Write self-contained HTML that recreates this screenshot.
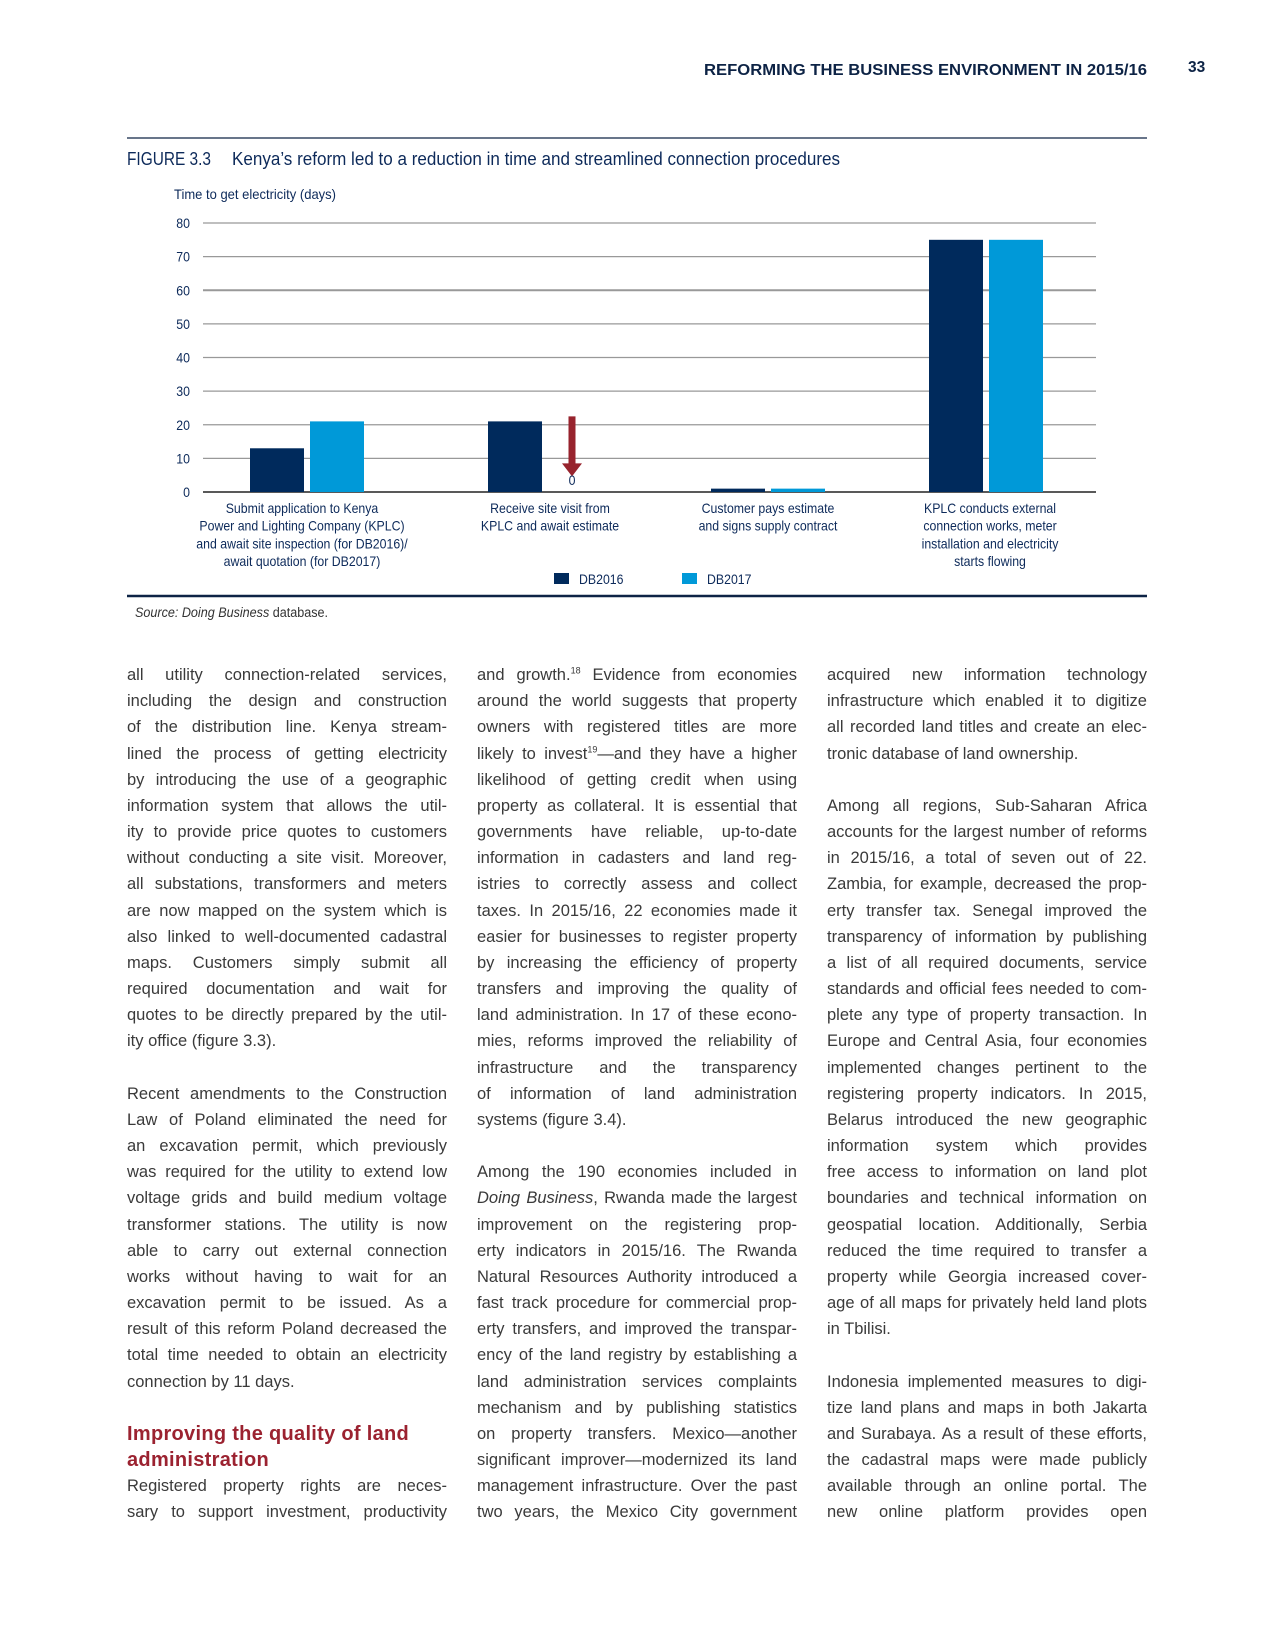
<!DOCTYPE html>
<html><head><meta charset="utf-8">
<style>
body{margin:0;background:#fff;}
#page{position:relative;width:1275px;height:1650px;overflow:hidden;background:#fff;font-family:"Liberation Sans",sans-serif;}
.ln{position:absolute;height:26px;line-height:26px;font-size:16.5px;color:#3a3a3a;text-align:justify;text-align-last:justify;white-space:nowrap;}
.ln.l{text-align-last:left;}
.c1{left:127px;width:320px;}
.c2{left:477px;width:320px;}
.c3{left:827px;width:320px;}
.h{color:#9b2230;font-weight:bold;font-size:20px;letter-spacing:0.3px;text-align-last:left;}
sup{font-size:9px;line-height:0;}
svg text{font-family:"Liberation Sans",sans-serif;fill:#0d2a5a;}
</style></head><body>
<div id="page">
<svg width="1275" height="100" style="position:absolute;left:0;top:0">
<text x="704" y="75" font-size="16" font-weight="bold" textLength="443" lengthAdjust="spacingAndGlyphs" style="fill:#0d2345">REFORMING THE BUSINESS ENVIRONMENT IN 2015/16</text>
<text x="1188" y="72" font-size="15.5" font-weight="bold" style="fill:#0d2345">33</text>
</svg>

<svg id="chart" width="1275" height="630" style="position:absolute;left:0;top:0">
<line x1="127" y1="138" x2="1147" y2="138" stroke="#0d2345" stroke-width="1.2"/>
<text x="127" y="165" font-size="18" textLength="84" lengthAdjust="spacingAndGlyphs">FIGURE 3.3</text>
<text x="232" y="165" font-size="18" textLength="608" lengthAdjust="spacingAndGlyphs">Kenya’s reform led to a reduction in time and streamlined connection procedures</text>
<text x="174" y="199" font-size="14" textLength="162" lengthAdjust="spacingAndGlyphs">Time to get electricity (days)</text>
<g id="grid"></g><g id="bars"></g><g id="labels"></g>
<rect x="554" y="573" width="15" height="11" fill="#002a5c"/>
<g transform="translate(579,584) scale(0.88,1)"><text x="0" y="0" font-size="14">DB2016</text></g>
<rect x="682" y="573" width="15" height="11" fill="#0099d8"/>
<g transform="translate(707,584) scale(0.88,1)"><text x="0" y="0" font-size="14">DB2017</text></g>
<line x1="127" y1="596" x2="1147" y2="596" stroke="#0d2345" stroke-width="2.5"/>
<g transform="translate(135,617) scale(0.9,1)"><text x="0" y="0" font-size="14" style="fill:#333"><tspan font-style="italic">Source: Doing Business</tspan> database.</text></g>
</svg>

<script>
const categories=[
 ["Submit application to Kenya","Power and Lighting Company (KPLC)","and await site inspection (for DB2016)/","await quotation (for DB2017)"],
 ["Receive site visit from","KPLC and await estimate"],
 ["Customer pays estimate","and signs supply contract"],
 ["KPLC conducts external","connection works, meter","installation and electricity","starts flowing"]];
const db2016=[13,21,1,75];
const db2017=[21,0,1,75];
const yTicks=[0,10,20,30,40,50,60,70,80];
const NS="http://www.w3.org/2000/svg";
const x0=203,x1=1096,y0=492,y80=223;
function yScale(v){return y0-(v/80)*(y0-y80);}
const groupCenters=[307,545,768,986];
const labelCenters=[302,550,768,990];
function xCenter(i){return groupCenters[i];}
function mk(tag,attrs,parent){const e=document.createElementNS(NS,tag);for(const k in attrs)e.setAttribute(k,attrs[k]);parent.appendChild(e);return e;}
function ctext(x,y,str,parent,anchor){
 const g=mk('g',{transform:`translate(${x},${y}) scale(0.88,1)`},parent);
 const t=mk('text',{x:0,y:0,'font-size':14,'text-anchor':anchor||'middle'},g);
 t.textContent=str;return t;
}
const grid=document.getElementById('grid'),bars=document.getElementById('bars'),labels=document.getElementById('labels');
yTicks.forEach(t=>{
 const y=yScale(t);
 const l=mk('line',{x1:x0,x2:x1,y1:y,y2:y,stroke:t===0?'#222':'#999','stroke-width':t===0?1.5:(t===60?2:1.2)},grid);
 
 
 const tx=ctext(190,y+5,String(t),grid,'end');
 
 
});
const bw=54,gap=6;
categories.forEach((c,i)=>{
 const cx=xCenter(i);
 const r1=mk('rect',{x:cx-gap/2-bw,y:yScale(db2016[i]),width:bw,height:y0-yScale(db2016[i]),fill:'#002a5c'},bars);
 
 
 if(db2017[i]>0){
  const r2=mk('rect',{x:cx+gap/2,y:yScale(db2017[i]),width:bw,height:y0-yScale(db2017[i]),fill:'#0099d8'},bars);
  
  
 } else {
  const ax=cx+gap/2+bw/2-3;
  const ar=mk('path',{d:`M${ax-3.5},${yScale(22.5)} h7 v${yScale(8.5)-yScale(22.5)} h6.5 l-10,13 l-10,-13 h6.5 z`,fill:'#97232d'},bars);
  
  
  const z=ctext(ax,y0-7,String(db2017[i]),bars);
  
  
 }
 c.forEach((s,j)=>{
  const t=ctext(labelCenters[i],513+j*17.7,s,labels);
  
  
 });
});
</script>

<div id="body"></div>
<script>
const col1=[
["all utility connection-related services,",0],["including the design and construction",0],["of the distribution line. Kenya stream-",0],["lined the process of getting electricity",0],["by introducing the use of a geographic",0],["information system that allows the util-",0],["ity to provide price quotes to customers",0],["without conducting a site visit. Moreover,",0],["all substations, transformers and meters",0],["are now mapped on the system which is",0],["also linked to well-documented cadastral",0],["maps. Customers simply submit all",0],["required documentation and wait for",0],["quotes to be directly prepared by the util-",0],["ity office (figure 3.3).",1],["",1],
["Recent amendments to the Construction",0],["Law of Poland eliminated the need for",0],["an excavation permit, which previously",0],["was required for the utility to extend low",0],["voltage grids and build medium voltage",0],["transformer stations. The utility is now",0],["able to carry out external connection",0],["works without having to wait for an",0],["excavation permit to be issued. As a",0],["result of this reform Poland decreased the",0],["total time needed to obtain an electricity",0],["connection by 11 days.",1],["",1],
["Improving the quality of land",2],["administration",2],
["Registered property rights are neces-",0],["sary to support investment, productivity",0]];
const col2=[
["and growth.<sup>18</sup> Evidence from economies",0],["around the world suggests that property",0],["owners with registered titles are more",0],["likely to invest<sup>19</sup>—and they have a higher",0],["likelihood of getting credit when using",0],["property as collateral. It is essential that",0],["governments have reliable, up-to-date",0],["information in cadasters and land reg-",0],["istries to correctly assess and collect",0],["taxes. In 2015/16, 22 economies made it",0],["easier for businesses to register property",0],["by increasing the efficiency of property",0],["transfers and improving the quality of",0],["land administration. In 17 of these econo-",0],["mies, reforms improved the reliability of",0],["infrastructure and the transparency",0],["of information of land administration",0],["systems (figure 3.4).",1],["",1],
["Among the 190 economies included in",0],["<i>Doing Business</i>, Rwanda made the largest",0],["improvement on the registering prop-",0],["erty indicators in 2015/16. The Rwanda",0],["Natural Resources Authority introduced a",0],["fast track procedure for commercial prop-",0],["erty transfers, and improved the transpar-",0],["ency of the land registry by establishing a",0],["land administration services complaints",0],["mechanism and by publishing statistics",0],["on property transfers. Mexico—another",0],["significant improver—modernized its land",0],["management infrastructure. Over the past",0],["two years, the Mexico City government",0]];
const col3=[
["acquired new information technology",0],["infrastructure which enabled it to digitize",0],["all recorded land titles and create an elec-",0],["tronic database of land ownership.",1],["",1],
["Among all regions, Sub-Saharan Africa",0],["accounts for the largest number of reforms",0],["in 2015/16, a total of seven out of 22.",0],["Zambia, for example, decreased the prop-",0],["erty transfer tax. Senegal improved the",0],["transparency of information by publishing",0],["a list of all required documents, service",0],["standards and official fees needed to com-",0],["plete any type of property transaction. In",0],["Europe and Central Asia, four economies",0],["implemented changes pertinent to the",0],["registering property indicators. In 2015,",0],["Belarus introduced the new geographic",0],["information system which provides",0],["free access to information on land plot",0],["boundaries and technical information on",0],["geospatial location. Additionally, Serbia",0],["reduced the time required to transfer a",0],["property while Georgia increased cover-",0],["age of all maps for privately held land plots",0],["in Tbilisi.",1],["",1],
["Indonesia implemented measures to digi-",0],["tize land plans and maps in both Jakarta",0],["and Surabaya. As a result of these efforts,",0],["the cadastral maps were made publicly",0],["available through an online portal. The",0],["new online platform provides open",0]];
const body=document.getElementById('body');
[[col1,'c1'],[col2,'c2'],[col3,'c3']].forEach(([col,cls],ci)=>{
 col.forEach(([t,k],i)=>{
  if(!t)return;
  const d=document.createElement('div');
  d.className='ln '+cls+(k===1?' l':'')+(k===2?' h':'');
  d.style.top=(662+i*26.17)+'px';
  d.innerHTML=t;
  
  
  body.appendChild(d);
 });
});
</script>
</div>
</body></html>
